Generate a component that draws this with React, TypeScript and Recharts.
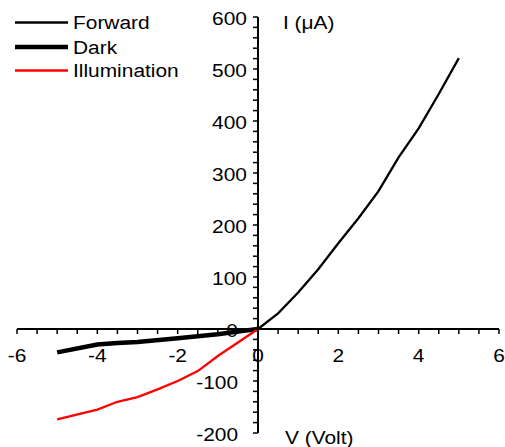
import React from 'react';
import { LineChart, Line, XAxis, YAxis, ReferenceLine, Legend, Label } from 'recharts';

// ---- data ----
const forwardV = [0, 0.5, 1, 1.5, 2, 2.5, 3, 3.5, 4, 4.5, 5];
const forwardI = [0, 30, 70, 115, 165, 213, 265, 330, 386, 452, 521];
const darkV = [-5, -4, -3.5, -3, -2, -1, -0.5, 0];
const darkI = [-45, -30, -27, -25, -18, -10, -5, 0];
const illumV = [-5, -4, -3.5, -3, -2.5, -2, -1.5, -1, -0.5, 0];
const illumI = [-174, -155, -140, -131, -116, -100, -81, -52, -26, 0];
const seriesNames = ['Forward', 'Dark', 'Illumination'];
const xTicks = [-6, -5.5, -5, -4.5, -4, -3.5, -3, -2.5, -2, -1.5, -1, -0.5, 0, 0.5, 1, 1.5, 2, 2.5, 3, 3.5, 4, 4.5, 5, 5.5, 6];
const xLabelTicks = [-6, -4, -2, 0, 2, 4, 6];
const yTicks: number[] = [];
for (let v = -200; v <= 600; v += 20) yTicks.push(v);
const yLabelTicks = [-200, -100, 0, 100, 200, 300, 400, 500, 600];
const xTitle = 'V (Volt)';
const yTitle = 'I (\u03bcA)';

const toPts = (xs: number[], ys: number[]) => xs.map((x, i) => ({ v: x, i: ys[i] }));
const forwardData = toPts(forwardV, forwardI);
const darkData = toPts(darkV, darkI);
const illumData = toPts(illumV, illumI);

// ---- layout ----
const W = 505;
const H = 447;
const AX = 1; // axis band size (must be >0 for recharts to render the ticks)
const M = { top: 17, right: 6, bottom: 14 - AX, left: 17 - AX };
const PW = W - 17 - 6;
const PH = H - 17 - 14;
const FONT = '"Liberation Sans", Arial, sans-serif';
const FS = 19;
const SX = 1.1;

const T = ({ x, y, anchor = 'start', children, fill = '#000' }: any) => (
  <text
    transform={`translate(${x},${y}) scale(${SX},1)`}
    x={0}
    y={0}
    textAnchor={anchor}
    dominantBaseline="central"
    fontFamily={FONT}
    fontSize={FS}
    fill={fill}
  >
    {children}
  </text>
);

const XTick = (props: any) => {
  const { x, y, payload } = props;
  const zeroY = y - PH * (200 / 800);
  const v = payload.value;
  return (
    <g>
      <line x1={x} x2={x} y1={zeroY} y2={zeroY + 5} stroke="#000" strokeWidth={1.5} />
      {xLabelTicks.includes(v) && <T x={x} y={zeroY + 26} anchor="middle">{String(v)}</T>}
    </g>
  );
};

const YTick = (props: any) => {
  const { x, y, payload } = props;
  const zeroX = x + PW / 2;
  const v = payload.value;
  const major = yLabelTicks.includes(v);
  return (
    <g>
      <line x1={zeroX - 5} x2={zeroX} y1={y} y2={y} stroke="#000" strokeWidth={1.5} />
      {major && <T x={v > 0 ? zeroX - 11 : zeroX - 20} y={y + 1} anchor="end">{String(v)}</T>}
    </g>
  );
};

const LegendContent = () => {
  const styles = [
    { stroke: '#000', w: 2.3 },
    { stroke: '#000', w: 4.5 },
    { stroke: '#ff0000', w: 2.3 },
  ];
  const ys = [22.5, 47, 70.5];
  return (
    <svg width={200} height={90} style={{ display: 'block' }}>
      {seriesNames.map((n, k) => (
        <g key={n}>
          <line x1={15} x2={68} y1={ys[k]} y2={ys[k]} stroke={styles[k].stroke} strokeWidth={styles[k].w} />
          <T x={73} y={ys[k]}>{n}</T>
        </g>
      ))}
    </svg>
  );
};

export default function App() {
  return (
    <div style={{ position: 'absolute', left: 0, top: 0, width: W, height: H, background: '#fff' }}>
      <LineChart width={W} height={H} margin={M}>
        <XAxis
          type="number"
          dataKey="v"
          domain={[-6, 6]}
          ticks={xTicks}
          interval={0}
          height={AX}
          tickSize={0}
          tickMargin={0}
          axisLine={false}
          tickLine={false}
          tick={(p: any) => <XTick {...p} />}
          allowDataOverflow
        />
        <YAxis
          type="number"
          dataKey="i"
          domain={[-200, 600]}
          ticks={yTicks}
          interval={0}
          width={AX}
          tickSize={0}
          tickMargin={0}
          axisLine={false}
          tickLine={false}
          tick={(p: any) => <YTick {...p} />}
          allowDataOverflow
        />
        <ReferenceLine y={0} stroke="#000" strokeWidth={2} />
        <ReferenceLine x={0} stroke="#000" strokeWidth={2}>
          <Label
            content={(p: any) => {
              const vb = p.viewBox || { x: 0, y: 0, height: 0 };
              return (
                <g>
                  <T x={vb.x + 25} y={vb.y + 5}>{yTitle}</T>
                  <T x={vb.x + 27} y={vb.y + vb.height + 4}>{xTitle}</T>
                </g>
              );
            }}
          />
        </ReferenceLine>
        <Line data={forwardData} dataKey="i" name={seriesNames[0]} stroke="#000" strokeWidth={2.3} dot={false} isAnimationActive={false} />
        <Line data={darkData} dataKey="i" name={seriesNames[1]} stroke="#000" strokeWidth={4.5} dot={false} isAnimationActive={false} />
        <Line data={illumData} dataKey="i" name={seriesNames[2]} stroke="#ff0000" strokeWidth={2.3} dot={false} isAnimationActive={false} />
        <Legend
          layout="vertical"
          align="center"
          verticalAlign="middle"
          content={<LegendContent />}
          wrapperStyle={{ position: 'absolute', left: 0, top: 0, width: 200, height: 90 }}
        />
      </LineChart>
    </div>
  );
}
